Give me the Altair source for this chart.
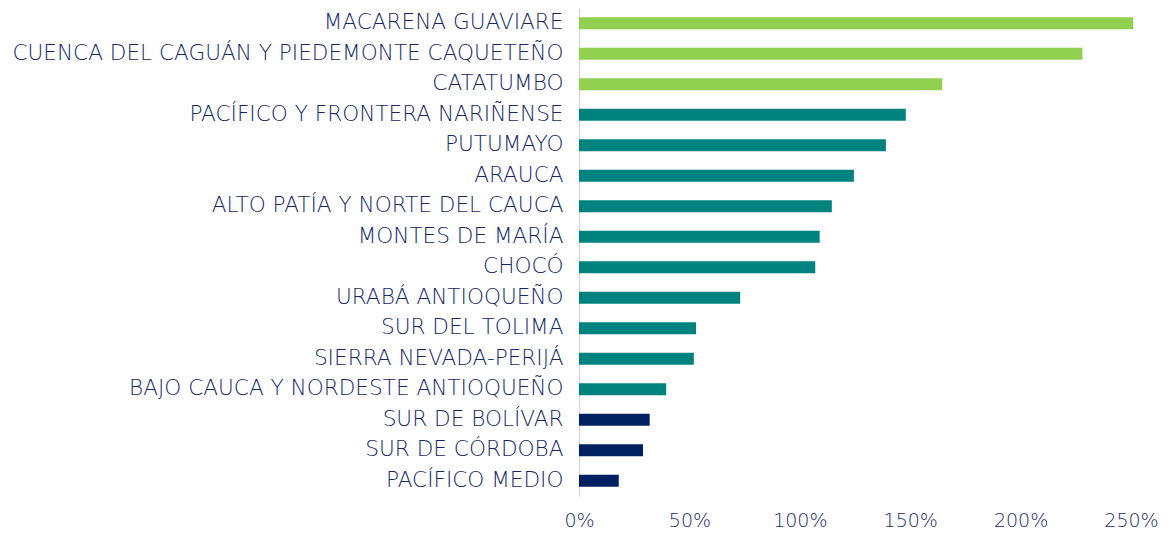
import altair as alt
import pandas as pd

regions = [
    "MACARENA GUAVIARE",
    "CUENCA DEL CAGUÁN Y PIEDEMONTE CAQUETEÑO",
    "CATATUMBO",
    "PACÍFICO Y FRONTERA NARIÑENSE",
    "PUTUMAYO",
    "ARAUCA",
    "ALTO PATÍA Y NORTE DEL CAUCA",
    "MONTES DE MARÍA",
    "CHOCÓ",
    "URABÁ ANTIOQUEÑO",
    "SUR DEL TOLIMA",
    "SIERRA NEVADA-PERIJÁ",
    "BAJO CAUCA Y NORDESTE ANTIOQUEÑO",
    "SUR DE BOLÍVAR",
    "SUR DE CÓRDOBA",
    "PACÍFICO MEDIO",
]
values = [2.51, 2.28, 1.645, 1.48, 1.39, 1.245, 1.145, 1.09, 1.07, 0.73,
          0.53, 0.52, 0.395, 0.32, 0.29, 0.18]
groups = ["alto"] * 3 + ["medio"] * 10 + ["bajo"] * 3
group_names = ["alto", "medio", "bajo"]
group_colors = ["#92D050", "#00827F", "#002060"]
ticks = [0, 0.5, 1.0, 1.5, 2.0, 2.5]

df = pd.DataFrame({"region": regions, "value": values, "group": groups})

text_color = "#15296A"
font = "DejaVu Sans"

chart = alt.Chart(df).mark_bar(height=12).encode(
    y=alt.Y("region:N", sort=regions, title=None,
            scale=alt.Scale(paddingInner=0, paddingOuter=0),
            axis=alt.Axis(ticks=False, domain=True, domainColor="#d9d9d9",
                          domainWidth=1.5, labelPadding=16, labelLimit=0,
                          labelFont=font, labelFontSize=21.6, labelColor=text_color,
                          labelFontWeight=200)),
    x=alt.X("value:Q", title=None,
            scale=alt.Scale(domain=[0, 2.5], nice=False, clamp=False),
            axis=alt.Axis(format="%", values=ticks, ticks=False, domain=False,
                          grid=False, labelPadding=15, labelFont=font,
                          labelFontSize=19, labelColor=text_color,
                          labelFontWeight=200, labelFlush=False)),
    color=alt.Color("group:N", scale=alt.Scale(domain=group_names, range=group_colors),
                    legend=None),
).properties(
    width=552,
    height=488,
    autosize=alt.AutoSizeParams(type="none"),
    padding={"left": 571, "top": 0, "right": 28, "bottom": 40},
).configure_view(stroke=None)

chart.save("out.html", embed_options={"renderer": "svg", "actions": False})
